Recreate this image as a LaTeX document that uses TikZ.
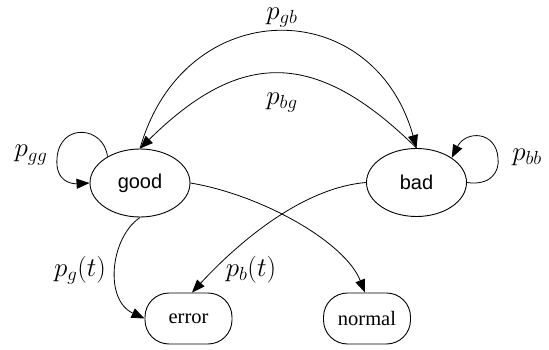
\RequirePackage{fix-cm}
\documentclass[tikz,border=0pt]{standalone}
\usepackage[no-math]{fontspec}
\setmainfont{Liberation Serif}
\newfontfamily\helv{Liberation Sans}
\usetikzlibrary{shapes.geometric,arrows.meta}
\tikzset{
  state/.style={ellipse,draw,line width=0.9pt,minimum width=100pt,minimum height=68pt,inner sep=0pt,font=\helv\fontsize{20}{24}\selectfont},
  outbox/.style={rectangle,draw,line width=0.9pt,rounded corners=24pt,minimum width=87pt,minimum height=51pt,inner sep=0pt,font=\fontsize{20.5}{24}\selectfont},
  edge/.style={line width=0.8pt,-{Triangle[length=13pt,width=10pt]}},
  lab/.style={inner sep=0pt,font=\fontsize{27}{32}\selectfont},
}
\begin{document}
\begin{tikzpicture}[x=1pt,y=-1pt]
\useasboundingbox (0,0) rectangle (549,350);
\node[state] (good) at (140,183) {good};
\node[state] (bad) at (416.5,182.5) {bad};
\node[outbox] (error) at (188.5,318.5) {error};
\node[outbox] (normal) at (367,318.5) {normal};
% between good and bad
\draw[edge] (good.north) .. controls (184,-7) and (373,-7) .. (bad.north);
\draw[edge] (bad.north) .. controls (316,49) and (241,49) .. (good.north);
% self loops
\draw[edge] (good.141) .. controls (104,126) and (60,122) .. (57,158) .. controls (55,182) and (72,184) .. (good.west);
\draw[edge] (bad.east) .. controls (490,186) and (500,172) .. (498,158) .. controls (496,131) and (466,130) .. (bad.35);
% to outputs
\draw[edge] (good.south) .. controls (110,238) and (104,300) .. (error.west);
\draw[edge] (bad.west) .. controls (300,188) and (235,246) .. ([xshift=3.5pt]error.north);
\draw[edge] (good.east) .. controls (262,195) and (345,242) .. ([xshift=-2pt]normal.north);
% labels
\node[lab] (lgb) at (282,18) {$p_{gb}$};
\node[lab] (lbg) at (282,103) {$p_{bg}$};
\node[lab] (lgg) at (31,155) {$p_{gg}$};
\node[lab] (lbb) at (527,157) {$p_{bb}$};
\node[lab] (lg) at (80,270) {$p_g(t)$};
\node[lab] (lb) at (251,270) {$p_b(t)$};
\end{tikzpicture}
\end{document}
